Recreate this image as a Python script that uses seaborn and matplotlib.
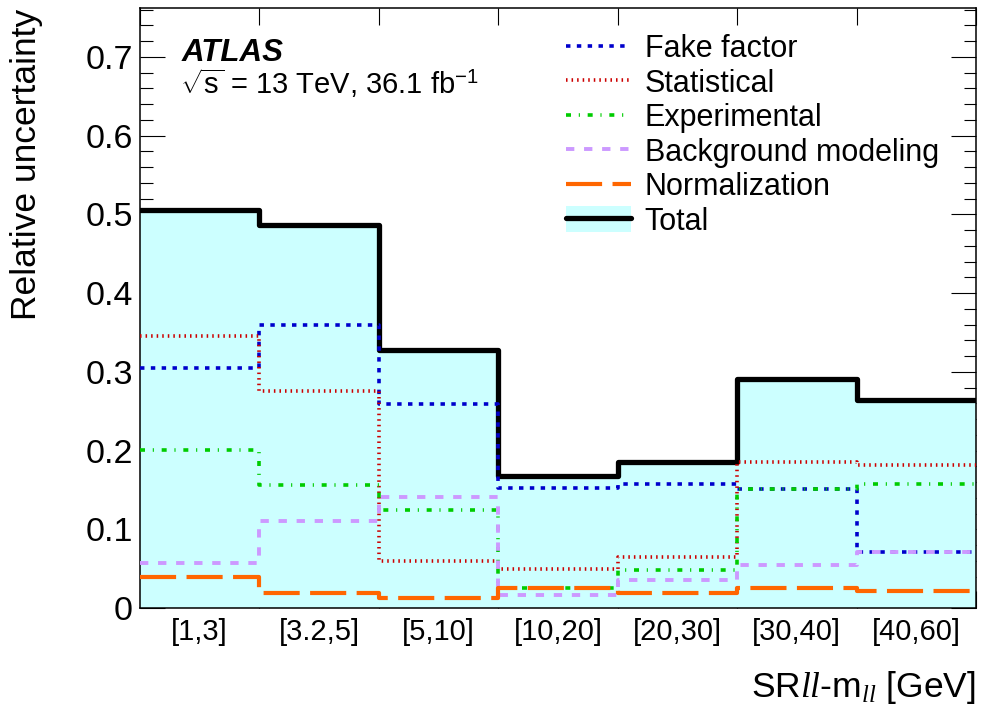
import matplotlib
matplotlib.use("Agg")
import numpy as np
import pandas as pd
import seaborn as sns
import matplotlib.pyplot as plt
from matplotlib.lines import Line2D
from matplotlib.patches import Patch

# --- data -------------------------------------------------------------
bin_labels = ["[1,3]", "[3.2,5]", "[5,10]", "[10,20]", "[20,30]", "[30,40]", "[40,60]"]
total = [0.505, 0.487, 0.328, 0.168, 0.186, 0.291, 0.264]
fake_factor = [0.305, 0.359, 0.259, 0.153, 0.158, 0.151, 0.071]
statistical = [0.345, 0.276, 0.060, 0.049, 0.065, 0.186, 0.181]
experimental = [0.201, 0.156, 0.124, 0.026, 0.048, 0.151, 0.157]
bkg_modeling = [0.057, 0.111, 0.141, 0.017, 0.036, 0.054, 0.071]
normalization = [0.039, 0.019, 0.013, 0.026, 0.019, 0.025, 0.022]

# --- style ------------------------------------------------------------
sns.set_theme(style="ticks")
plt.rcParams["font.family"] = ["Liberation Sans", "DejaVu Sans"]
plt.rcParams["mathtext.fontset"] = "custom"
plt.rcParams["mathtext.rm"] = "Liberation Sans"
plt.rcParams["mathtext.it"] = "Liberation Serif:italic"
plt.rcParams["lines.scale_dashes"] = False
for key in ["text.color", "axes.labelcolor", "xtick.color", "ytick.color", "axes.edgecolor"]:
    plt.rcParams[key] = "black"

edges = np.arange(len(bin_labels) + 1)

series = [
    ("Fake factor", fake_factor, "#0000cc", 2.6, (0, (3.2, 4.6))),
    ("Statistical", statistical, "#cc0000", 2.6, (0, (1.1, 2.9))),
    ("Experimental", experimental, "#00cc00", 2.6, (0, (3.6, 5.6, 0.8, 5.6))),
    ("Background modeling", bkg_modeling, "#cc99ff", 2.8, (0, (6.0, 7.0))),
    ("Normalization", normalization, "#ff6600", 3.0, (0, (26.0, 7.5))),
]

rows = []
for name, vals in [("Total", total)] + [(s[0], s[1]) for s in series]:
    ext = list(vals) + [vals[-1]]
    for e, v in zip(edges, ext):
        rows.append({"source": name, "edge": e, "value": v})
df = pd.DataFrame(rows)

fig = plt.figure(figsize=(9.85, 7.06), dpi=100)
ax = fig.add_axes([140 / 985, 1 - 608 / 706, 836 / 985, 600 / 706])

tot = df[df.source == "Total"]
ax.fill_between(tot["edge"], tot["value"], step="post", color="#ccffff", lw=0, zorder=1)
sns.lineplot(data=tot, x="edge", y="value", drawstyle="steps-post", color="black",
             lw=3.8, errorbar=None, legend=False, ax=ax, zorder=2)

for name, vals, color, lw, ls in series:
    sub = df[df.source == name]
    sns.lineplot(data=sub, x="edge", y="value", drawstyle="steps-post", color=color,
                 lw=lw, linestyle=ls, errorbar=None, legend=False, ax=ax, zorder=3)

# --- axes -------------------------------------------------------------
ax.set_xlim(0, len(bin_labels))
ax.set_ylim(0, 0.762)
ax.set_xticks(edges)
ax.set_xticklabels([])
ax.set_xticks(edges[:-1] + 0.5, minor=True)
ax.set_xticklabels(bin_labels, minor=True, fontsize=21)
ax.set_yticks(np.arange(0, 0.71, 0.1))
ax.set_yticklabels(["0"] + [f"{v:.1f}" for v in np.arange(0.1, 0.71, 0.1)], fontsize=24.5)
ax.set_yticks(np.arange(0, 0.761, 0.02), minor=True)

ax.tick_params(axis="both", which="both", direction="in", top=True, right=True,
               width=0.8, color="black")
ax.tick_params(axis="x", which="major", length=12.5)
ax.tick_params(axis="x", which="minor", length=0, pad=7)
ax.tick_params(axis="y", which="major", length=18, pad=5)
ax.tick_params(axis="y", which="minor", length=9)
for sp in ax.spines.values():
    sp.set_linewidth(1.1)

ax.set_xlabel("")
ax.set_ylabel("")
fig.text(27 / 985, 1 - 9 / 706, "Relative uncertainty", rotation=90, ha="center",
         va="top", fontsize=25.5)
fig.text(976 / 985, 1 - 697 / 706, r"SR$\mathit{ll}$-m$_{\mathit{ll}}$ [GeV]",
         ha="right", va="baseline", fontsize=25.5)

fig.text(182 / 985, 1 - 38 / 706, "ATLAS", fontsize=22.5,
         fontweight="bold", fontstyle="italic", va="top", ha="left")
fig.text(180 / 985, 1 - 94 / 706, r"$\sqrt{\mathrm{s}}$ = 13 TeV, 36.1 fb$^{-1}$",
         fontsize=21, va="baseline", ha="left")

# --- legend -----------------------------------------------------------
handles = [Line2D([], [], color=c, lw=lw, linestyle=ls) for _, _, c, lw, ls in series]
handles.append((Patch(facecolor="#ccffff", edgecolor="none"),
                Line2D([], [], color="black", lw=3.8)))
labels = [s[0] for s in series] + ["Total"]
ax.legend(handles, labels, loc="upper left", bbox_to_anchor=(566 / 985, 1 - 34 / 706),
          bbox_transform=fig.transFigure, frameon=False, fontsize=22, handlelength=2.12,
          handletextpad=0.46, labelspacing=0.14, borderpad=0, borderaxespad=0,
          handleheight=0.9)

fig.savefig("out.png", dpi=100)
